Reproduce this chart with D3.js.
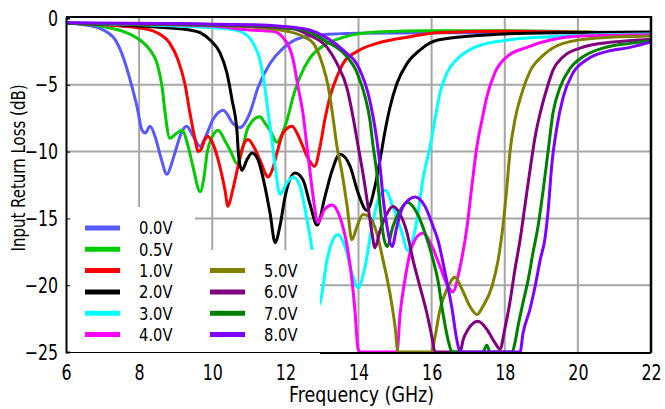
<!DOCTYPE html>
<html>
<head>
<meta charset="utf-8">
<script src="https://cdn.jsdelivr.net/npm/d3@7"></script>
<style>
  body { margin: 0; background: #fff; }
  text { font-family: "DejaVu Sans", Verdana, sans-serif; fill: #000; }
</style>
</head>
<body>
<script>
// data: [GHz, dB]
var xTicks = [6, 8, 10, 12, 14, 16, 18, 20, 22];
var yTicks = [0, -5, -10, -15, -20, -25];
var labels = ["0.0V", "0.5V", "1.0V", "2.0V", "3.0V", "4.0V", "5.0V", "6.0V", "7.0V", "8.0V"];
var colors = ["#5858ff", "#00cc00", "#ff0000", "#000000", "#00ffff", "#ff00ff", "#808000", "#800080", "#008000", "#8000ff"];

var v00 = [[6,-0.4],[6.5,-0.5],[6.9,-0.75],[7.15,-1.1],[7.34,-1.6],[7.56,-2.9],[7.8,-5.1],[7.94,-6.6],[8.08,-8.4],[8.17,-8.6],[8.3,-8.1],[8.45,-9.0],[8.6,-10.5],[8.76,-11.7],[8.9,-10.8],[9.0,-9.9],[9.17,-8.5],[9.3,-8.1],[9.47,-8.8],[9.67,-9.6],[9.8,-9.0],[10.02,-7.6],[10.3,-6.9],[10.57,-7.9],[10.76,-8.2],[11.03,-7.1],[11.25,-5.2],[11.58,-3.4],[11.94,-2.25],[12.4,-1.5],[12.95,-1.27],[14,-1.15],[16,-1.1],[22,-1.1]];
var v05 = [[6,-0.4],[6.8,-0.55],[7.2,-0.75],[7.56,-1.0],[8.02,-1.65],[8.3,-2.4],[8.49,-3.4],[8.63,-5.2],[8.71,-7.1],[8.84,-9.0],[8.95,-8.8],[9.04,-8.6],[9.17,-8.4],[9.34,-9.6],[9.47,-11.1],[9.67,-13.0],[9.78,-11.8],[9.86,-10.1],[10.0,-8.9],[10.16,-8.4],[10.35,-9.2],[10.49,-9.9],[10.68,-10.9],[10.82,-9.9],[10.95,-8.4],[11.1,-7.7],[11.3,-7.4],[11.45,-7.9],[11.58,-8.4],[11.77,-9.3],[11.92,-8.6],[12.05,-7.6],[12.21,-5.9],[12.4,-4.4],[12.67,-3.0],[13.03,-2.1],[13.58,-1.45],[14.5,-1.05],[16,-0.95],[18,-0.95],[22,-1.2]];
var v10 = [[6,-0.4],[7.5,-0.6],[8.02,-0.75],[8.49,-1.1],[8.84,-1.9],[9.06,-3.1],[9.25,-4.9],[9.39,-7.1],[9.53,-9.1],[9.61,-10.0],[9.7,-9.8],[9.8,-9.1],[9.88,-8.85],[10.0,-9.3],[10.16,-10.6],[10.35,-12.9],[10.43,-14.1],[10.55,-13.0],[10.68,-11.4],[10.84,-9.6],[10.98,-9.1],[11.13,-9.6],[11.3,-10.6],[11.53,-11.9],[11.65,-11.3],[11.77,-10.1],[11.94,-8.6],[12.18,-8.1],[12.4,-9.1],[12.62,-10.5],[12.8,-11.1],[12.95,-9.6],[13.08,-7.6],[13.22,-5.9],[13.41,-4.4],[13.58,-3.4],[13.96,-2.5],[14.5,-1.9],[15.41,-1.4],[16.17,-1.1],[18,-1.0],[22,-1.2]];
var v20 = [[6,-0.4],[8,-0.6],[9.39,-0.9],[9.67,-1.1],[9.94,-1.65],[10.21,-2.6],[10.4,-4.1],[10.54,-6.1],[10.68,-8.6],[10.72,-10.3],[10.81,-11.4],[10.95,-10.6],[11.09,-10.1],[11.25,-10.6],[11.44,-12.6],[11.58,-14.6],[11.72,-16.8],[11.85,-15.6],[11.99,-13.4],[12.26,-11.6],[12.48,-12.1],[12.67,-13.9],[12.87,-15.5],[13.08,-13.4],[13.28,-11.4],[13.49,-10.2],[13.77,-11.1],[13.99,-13.1],[14.23,-14.4],[14.45,-12.6],[14.59,-10.6],[14.73,-8.4],[14.86,-6.7],[15.05,-4.9],[15.33,-3.4],[15.68,-2.4],[16.17,-1.65],[17.51,-1.27],[19.24,-1.1],[22,-1.05]];
var v30 = [[6,-0.4],[9,-0.6],[10.13,-0.75],[10.76,-1.0],[11.12,-1.9],[11.3,-3.1],[11.44,-5.2],[11.53,-7.1],[11.63,-9.1],[11.72,-11.1],[11.85,-13.2],[12.05,-12.3],[12.21,-11.9],[12.4,-12.6],[12.59,-15.1],[12.73,-17.4],[12.88,-21.6],[12.95,-21.3],[13.14,-18.1],[13.3,-16.6],[13.44,-16.2],[13.63,-17.1],[13.82,-19.1],[13.99,-20.2],[14.18,-18.6],[14.37,-15.6],[14.54,-13.6],[14.73,-12.9],[14.94,-14.1],[15.19,-16.1],[15.35,-17.4],[15.6,-15.1],[15.76,-12.1],[15.96,-9.6],[16.09,-7.6],[16.23,-5.6],[16.42,-4.1],[16.69,-3.1],[17.13,-2.25],[17.95,-1.7],[19.24,-1.4],[22,-1.2]];
var v40 = [[6,-0.4],[10,-0.6],[11.03,-0.9],[11.66,-1.0],[12.05,-1.9],[12.21,-3.1],[12.35,-5.2],[12.48,-7.1],[12.59,-9.6],[12.67,-11.4],[12.76,-13.4],[12.89,-15.3],[13.08,-14.3],[13.28,-14.0],[13.49,-14.9],[13.69,-17.1],[13.82,-19.6],[13.9,-21.8],[13.99,-24.8],[14.04,-25],[15.05,-25],[15.14,-22.1],[15.27,-19.6],[15.46,-17.1],[15.76,-16.1],[16.01,-17.1],[16.23,-18.6],[16.45,-20.1],[16.58,-20.5],[16.78,-18.6],[16.97,-15.6],[17.1,-12.6],[17.24,-9.6],[17.38,-7.6],[17.51,-5.9],[17.73,-4.1],[18.06,-2.9],[18.61,-2.2],[19.24,-1.65],[20.06,-1.35],[22,-1.25]];
var v50 = [[6,-0.4],[10.5,-0.6],[11.85,-0.9],[12.67,-1.65],[12.87,-2.4],[13.03,-3.6],[13.17,-5.1],[13.3,-7.4],[13.41,-9.6],[13.55,-11.6],[13.69,-14.1],[13.82,-16.6],[13.96,-15.6],[14.12,-14.7],[14.31,-14.9],[14.5,-16.1],[14.67,-18.1],[14.86,-20.6],[15.0,-23.1],[15.08,-25],[16.0,-25],[16.09,-23.9],[16.23,-21.8],[16.42,-20.3],[16.64,-19.4],[16.83,-20.3],[17.05,-21.6],[17.24,-22.2],[17.4,-21.6],[17.65,-20.1],[17.82,-18.1],[17.95,-15.6],[18.06,-12.6],[18.14,-10.1],[18.28,-7.6],[18.47,-5.6],[18.69,-4.0],[19.05,-2.8],[19.6,-1.9],[20.52,-1.5],[22,-1.35]];
var v60 = [[6,-0.4],[11,-0.6],[12.21,-0.8],[12.67,-1.3],[13.14,-2.2],[13.41,-3.4],[13.69,-5.3],[13.85,-7.4],[13.99,-9.6],[14.12,-11.6],[14.26,-14.1],[14.37,-16.1],[14.45,-17.2],[14.59,-15.9],[14.73,-14.9],[14.94,-14.1],[15.14,-14.7],[15.33,-16.1],[15.49,-18.1],[15.68,-20.1],[15.87,-22.1],[16.01,-23.9],[16.09,-25],[16.78,-25],[16.86,-24.1],[17.0,-23.3],[17.27,-22.7],[17.51,-23.3],[17.73,-24.3],[17.87,-24.8],[18.0,-23.3],[18.14,-21.3],[18.28,-18.8],[18.42,-16.6],[18.55,-14.1],[18.69,-11.4],[18.83,-8.9],[18.97,-7.1],[19.16,-5.2],[19.32,-3.9],[19.6,-2.9],[20.06,-2.25],[20.96,-1.8],[22,-1.6]];
var v70 = [[6,-0.4],[11,-0.55],[12.5,-0.9],[13.14,-1.8],[13.58,-2.6],[13.96,-4.1],[14.18,-5.9],[14.31,-7.6],[14.4,-9.6],[14.5,-11.6],[14.59,-14.1],[14.67,-16.1],[14.78,-17.1],[14.94,-15.6],[15.14,-14.4],[15.33,-13.8],[15.6,-14.6],[15.82,-16.1],[16.04,-18.1],[16.17,-19.6],[16.31,-22.1],[16.45,-24.1],[16.56,-25],[17.4,-25],[17.51,-24.5],[17.6,-25],[18.2,-25],[18.28,-24.3],[18.36,-23.1],[18.5,-21.3],[18.64,-19.6],[18.77,-17.6],[18.91,-15.6],[19.05,-12.9],[19.18,-10.1],[19.32,-7.1],[19.51,-5.2],[19.78,-3.8],[20.14,-2.9],[20.69,-2.25],[21.43,-1.9],[22,-1.7]];
var v80 = [[6,-0.35],[11,-0.5],[12.5,-0.8],[13.2,-1.6],[13.58,-2.4],[14.04,-3.9],[14.26,-5.6],[14.4,-7.4],[14.5,-9.1],[14.59,-11.1],[14.67,-13.4],[14.78,-15.6],[14.92,-17.1],[15.05,-15.6],[15.22,-14.1],[15.55,-13.4],[15.82,-14.1],[16.04,-15.6],[16.17,-16.6],[16.37,-19.1],[16.56,-21.8],[16.69,-24.1],[16.78,-25],[18.42,-25],[18.5,-23.6],[18.69,-21.8],[18.83,-20.1],[18.97,-18.1],[19.1,-16.5],[19.18,-14.6],[19.29,-10.9],[19.43,-8.1],[19.6,-5.9],[19.87,-4.1],[20.25,-3.1],[20.8,-2.5],[21.43,-2.2],[22,-1.8]];

var series = [v00, v05, v10, v20, v30, v40, v50, v60, v70, v80];

// layout
var W = 665, H = 409;
var margin = {top: 18, right: 14, bottom: 57, left: 66};
var width = W - margin.left - margin.right;
var height = H - margin.top - margin.bottom;

var svg = d3.select("body").append("svg")
    .attr("width", W)
    .attr("height", H);

var g = svg.append("g")
    .attr("transform", "translate(" + margin.left + "," + margin.top + ")");

var x = d3.scaleLinear().domain([6, 22]).range([0, width]);
var y = d3.scaleLinear().domain([0, -25]).range([0, height]);

// grid
g.selectAll(".vgrid")
  .data(xTicks.slice(1, -1))
  .enter().append("line")
    .attr("x1", d => x(d)).attr("x2", d => x(d))
    .attr("y1", 0).attr("y2", height)
    .attr("stroke", "#a6a6a6").attr("stroke-width", 2);

g.selectAll(".hgrid")
  .data(yTicks.slice(1, -1))
  .enter().append("line")
    .attr("x1", 0).attr("x2", width)
    .attr("y1", d => y(d)).attr("y2", d => y(d))
    .attr("stroke", "#a6a6a6").attr("stroke-width", 2);

// curves
svg.append("clipPath").attr("id", "clip")
  .append("rect").attr("x", 0).attr("y", -2).attr("width", width).attr("height", height + 2);

var line = d3.line()
    .x(d => x(d[0]))
    .y(d => y(d[1]))
    .curve(d3.curveMonotoneX);

g.append("g").attr("clip-path", "url(#clip)")
  .selectAll("path")
  .data(series)
  .enter().append("path")
    .attr("d", line)
    .attr("fill", "none")
    .attr("stroke", (d, i) => colors[i])
    .attr("stroke-width", 3)
    .attr("stroke-linejoin", "round");

// legend (white boxes over the lower left)
g.append("rect").attr("x", 0).attr("y", 189).attr("width", 129).attr("height", height - 189).attr("fill", "#fff");
g.append("rect").attr("x", 128).attr("y", 232).attr("width", 126).attr("height", height - 232).attr("fill", "#fff");

var leg = g.selectAll(".leg")
  .data(labels)
  .enter().append("g")
    .attr("transform", (d, i) => {
      var col = i < 6 ? 0 : 1;
      var row = i < 6 ? i : i - 4;
      return "translate(" + (19 + col * 125) + "," + (210 + row * 21.3) + ")";
    });

leg.append("line")
    .attr("x1", 0).attr("x2", 35)
    .attr("stroke", (d, i) => colors[i])
    .attr("stroke-width", 5);

leg.append("text")
    .attr("transform", "translate(54,0) scale(0.82,1)")
    .attr("dy", "0.36em")
    .style("font-size", "18px")
    .text(d => d);

// frame
g.append("line").attr("x1", 0).attr("x2", width).attr("y1", -1).attr("y2", -1).attr("stroke", "#000").attr("stroke-width", 2);
g.append("line").attr("x1", width).attr("x2", width).attr("y1", -2).attr("y2", height + 1).attr("stroke", "#000").attr("stroke-width", 2.5);
g.append("line").attr("x1", 0).attr("x2", width).attr("y1", height + 0.5).attr("y2", height + 0.5).attr("stroke", "#000").attr("stroke-width", 1);
g.append("line").attr("x1", 254).attr("x2", width).attr("y1", height + 1).attr("y2", height + 1).attr("stroke", "#000").attr("stroke-width", 2);

// axes
var xAxis = g.append("g")
    .attr("transform", "translate(0," + height + ")")
    .call(d3.axisBottom(x).tickValues(xTicks).tickSize(0).tickPadding(12).tickFormat(d3.format("d")));
xAxis.select(".domain").remove();
xAxis.selectAll("text")
    .style("font-size", "22px")
    .attr("fill", "#000")
    .attr("transform", "scale(0.72,1)");

var yAxis = g.append("g")
    .call(d3.axisLeft(y).tickValues(yTicks).tickSize(-4).tickPadding(11).tickFormat(d3.format("d")));
yAxis.select(".domain").attr("stroke", "#000").attr("stroke-width", 2);
yAxis.selectAll(".tick line").attr("stroke", "#000").attr("stroke-width", 1);
yAxis.selectAll("text")
    .style("font-size", "22px")
    .attr("fill", "#000")
    .attr("transform", "scale(0.72,1)");

// axis titles
svg.append("text")
    .attr("x", margin.left + width / 2 + 3)
    .attr("y", 402)
    .attr("text-anchor", "middle")
    .attr("textLength", 145)
    .attr("lengthAdjust", "spacingAndGlyphs")
    .style("font-size", "21px")
    .text("Frequency (GHz)");

svg.append("text")
    .attr("transform", "translate(25,168) rotate(-90)")
    .attr("text-anchor", "middle")
    .attr("textLength", 167)
    .attr("lengthAdjust", "spacingAndGlyphs")
    .style("font-size", "19px")
    .text("Input Return Loss (dB)");
</script>
</body>
</html>
